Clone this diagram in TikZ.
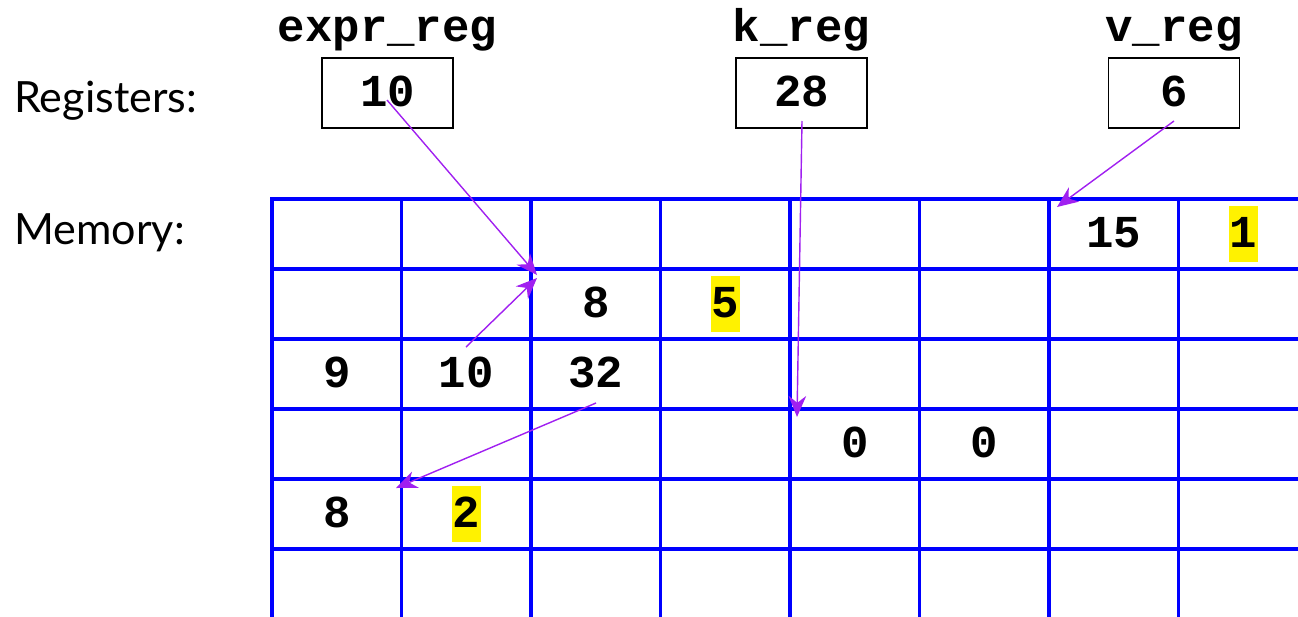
\documentclass[tikz,border=0pt]{standalone}
\usepackage{fontspec}
\setmainfont{Lato}
\newfontfamily\codefont{Liberation Mono}
\usepackage{xcolor}
\usepackage{tikz}
\usetikzlibrary{arrows.meta}
\definecolor{ptrpurple}{RGB}{160,32,240}

\begin{document}
\begin{tikzpicture}[x=0.02cm, y=-0.02cm,
  gridline/.style={blue, line width=2pt, line cap=rect},
  code/.style={font=\codefont\bfseries\fontsize{26}{26}\selectfont},
  val/.style={code, inner xsep=0.4pt, inner ysep=0pt, text height=0.825cm, text depth=0.295cm},
  hl/.style={val, fill=yellow},
  reg/.style={val, draw, line width=1.1pt, minimum width=2.62cm, minimum height=1.4cm},
  regname/.style={code, anchor=base},
  rowlabel/.style={anchor=base west, inner sep=0pt, font=\fontsize{24.5}{24.5}\selectfont},
  ptr/.style={ptrpurple, line width=0.8pt, -{Stealth[length=12pt,width=10pt]}}
]
  \useasboundingbox (0,0) rectangle (1298,616);
  % row labels
  \node[rowlabel] (lregs) at (14,112) {Registers:};
  \node[rowlabel] (lmem) at (14,244) {Memory:};
  % registers
  \node[reg] (expr) at (387.5,93) {10};
  \node[reg] (kreg) at (801.5,93) {28};
  \node[reg] (vreg) at (1174,93) {6};
  \node[regname] (nexpr) at (387.5,41) {expr\_reg};
  \node[regname] (nk) at (801.5,41) {k\_reg};
  \node[regname] (nv) at (1174,41) {v\_reg};
  % memory grid
  \foreach \i in {0,...,7}
    \draw[gridline] (272+129.5*\i,199) -- (272+129.5*\i,616);
  \foreach \j in {0,...,5}
    \draw[gridline] (272,199+70*\j) -- (1298,199+70*\j);
  \foreach \r/\c/\v in {0/6/15, 1/2/8, 2/0/9, 2/1/10, 2/2/32, 3/4/0, 3/5/0, 4/0/8}
    \node[val] (m-\r-\c) at (336.75+129.5*\c,234+70*\r) {\v};
  \foreach \r/\c/\v in {0/7/1, 1/3/5, 4/1/2}
    \node[hl] (m-\r-\c) at (336.75+129.5*\c,234+70*\r) {\v};
  % pointers
  \coordinate (p1a) at (387,100);  \coordinate (p1b) at (537,275);
  \coordinate (p2a) at (466,347);  \coordinate (p2b) at (537,278);
  \coordinate (p3a) at (802,121);  \coordinate (p3b) at (797,417);
  \coordinate (p4a) at (1174,121); \coordinate (p4b) at (1057,207);
  \coordinate (p5a) at (596,403);  \coordinate (p5b) at (396,488);
  \draw[ptr] (p1a) -- (p1b);
  \draw[ptr] (p2a) -- (p2b);
  \draw[ptr] (p3a) -- (p3b);
  \draw[ptr] (p4a) -- (p4b);
  \draw[ptr] (p5a) -- (p5b);
\end{tikzpicture}
\end{document}
